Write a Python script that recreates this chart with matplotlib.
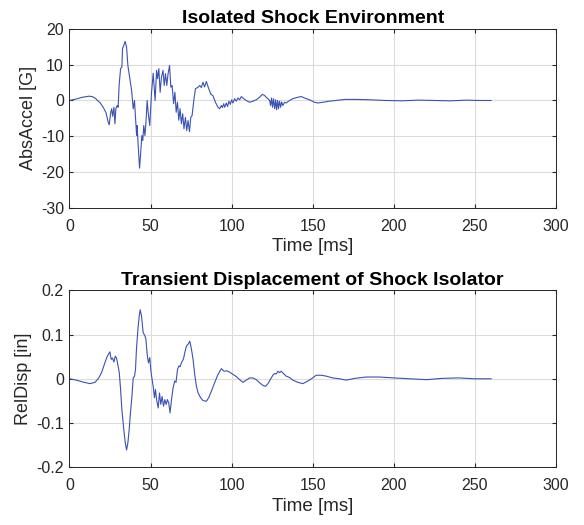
import matplotlib
matplotlib.use("Agg")
import matplotlib.pyplot as plt

plt.rcParams['font.family'] = ['Liberation Sans', 'DejaVu Sans']
plt.rcParams['axes.unicode_minus'] = False

# Top: absolute acceleration [G] vs time [ms]
t_acc = [0, 4, 8, 12, 14, 16, 18, 18.8, 20.8, 22.5, 23.9, 24.5, 25.4, 26.0, 26.6, 27.4,
         28.0, 28.6, 29.4, 30.0, 30.6, 31.5, 32.3, 32.7, 33.5, 34.3, 35.2, 36.0, 37.2,
         38.3, 39.3, 40.1, 40.5, 41.4, 41.7, 42.3, 43.2, 43.8, 44.6, 45.2, 45.8, 46.5,
         47.1, 47.9, 48.5, 49.5, 50.6, 51.6, 52.2, 52.8, 53.7, 54.3, 55.1, 55.9, 56.7,
         57.7, 58.4, 59.2, 60.0, 60.8, 61.7, 62.5, 63.3, 64.2, 65.0, 65.8, 66.6, 67.4,
         68.2, 69.0, 69.8, 70.6, 71.5, 72.3, 73.1, 74.0, 74.8, 75.6, 76.8, 77.7, 79.3,
         80.3, 81.3, 82.3, 83.3, 84.4, 85.4, 87.1, 88.5, 90.0, 91.6, 92.6, 93.6, 94.3,
         95.1, 95.7, 96.7, 97.5, 98.3, 99.2, 100.0, 100.8, 101.8, 102.9, 103.9, 104.9,
         106.0, 107.4, 109.0, 111.1, 113.1, 115.2, 117.2, 118.9, 120.3, 121.3, 122.4,
         123.4, 124.0, 124.6, 125.2, 125.8, 126.5, 127.1, 127.7, 128.3, 128.9, 129.5,
         130.2, 130.8, 131.6, 132.6, 133.6, 135.7, 137.7, 140.8, 142.9, 144.9, 148.0,
         151.1, 153.1, 156.2, 160.3, 164.4, 170, 177, 185, 195, 205, 215, 225, 235,
         245, 252, 260]
g_acc = [0.0, 0.4, 0.9, 1.2, 1.1, 0.6, -0.3, -0.6, -1.9, -3.4, -6.1, -6.8, -3.4, -2.3,
         -4.4, -1.9, -6.5, -2.3, -1.4, -1.9, 4.2, 8.9, 9.3, 14.5, 15.4, 16.5, 14.9, 9.8,
         6.1, 2.8, -2.3, 0.0, -3.3, -9.8, -7.0, -12.1, -18.9, -15.3, -9.8, -11.2, -7.0,
         -9.8, -6.5, 0.0, -3.3, -7.0, 2.3, 7.6, 3.7, 0.0, 8.4, 6.1, 8.9, 2.3, 6.5, 8.4,
         4.2, 7.5, 4.2, 7.5, 9.8, 3.7, 4.2, -0.9, 2.3, -3.3, -0.5, -5.5, -2.3, -6.5,
         -3.7, -7.9, -4.7, -8.4, -5.6, -8.7, -4.7, -4.2, 0.5, 3.3, 3.7, 4.2, 3.6, 5.1,
         3.8, 5.3, 3.9, 1.8, 1.3, -0.5, -1.9, -2.3, -1.4, -2.0, -0.9, -1.9, -0.7, -1.7,
         -0.2, -1.1, 0.2, -0.7, 0.5, -0.2, 0.7, 0.2, 1.1, 0.5, 0.0, -0.5, -0.2, 0.2, 0.9,
         1.7, 1.4, 0.9, 0.5, 0.0, -1.4, 0.7, -1.9, 0.5, -2.3, 0.2, -2.6, 0.0, -2.3, -0.2,
         -1.9, -0.4, -1.4, -0.5, -0.7, 0.0, 0.5, 0.9, 1.1, 0.7, 0.2, -0.5, -0.7, -0.5,
         -0.2, 0.0, 0.3, 0.3, 0.2, 0.0, -0.1, 0.1, 0.0, -0.1, 0.1, 0.0, 0.0]

# Bottom: relative displacement [in] vs time [ms]
t_disp = [0, 4, 8, 12.6, 15.7, 17.7, 19.8, 21.8, 23.3, 24.9, 25.7, 26.5, 27.4, 28.2,
          29.0, 29.8, 30.7, 31.5, 32.3, 33.5, 34.4, 35.2, 36.0, 36.8, 37.6, 38.5, 39.3,
          40.1, 40.7, 41.3, 42.2, 43.0, 43.6, 44.4, 45.4, 46.5, 47.1, 47.9, 48.7, 49.5,
          50.3, 51.6, 52.4, 53.0, 53.7, 54.7, 55.5, 56.3, 57.1, 58.0, 58.8, 59.6, 60.4,
          61.2, 62.0, 62.9, 63.9, 64.9, 65.7, 66.6, 67.4, 68.2, 69.0, 70.3, 71.1, 72.1,
          73.1, 74.2, 75.2, 76.2, 77.2, 78.3, 79.3, 80.9, 82.3, 84.4, 85.8, 87.5, 89.5,
          91.6, 93.7, 95.3, 97.0, 98.8, 100.8, 102.9, 104.9, 107.0, 109.0, 111.1, 113.1,
          115.2, 117.2, 119.3, 120.9, 122.4, 123.8, 125.4, 126.5, 127.5, 128.5, 129.5,
          130.6, 131.6, 133.6, 135.7, 137.7, 140.8, 143.9, 147.0, 150.0, 152.1, 155.2,
          158.3, 162.3, 166.5, 170.6, 176, 182.9, 191, 200, 210, 220, 230, 240, 250, 260]
d_disp = [0.0, -0.003, -0.007, -0.011, -0.008, 0.0, 0.014, 0.036, 0.051, 0.061, 0.044,
          0.047, 0.038, 0.051, 0.047, 0.032, 0.014, -0.024, -0.070, -0.115, -0.145,
          -0.161, -0.145, -0.115, -0.077, -0.040, 0.002, 0.006, 0.021, 0.067, 0.112,
          0.142, 0.156, 0.142, 0.105, 0.097, 0.090, 0.055, 0.036, 0.048, 0.014, -0.017,
          -0.043, -0.024, -0.047, -0.066, -0.032, -0.058, -0.040, -0.062, -0.047, -0.058,
          -0.047, -0.055, -0.077, -0.047, -0.020, -0.005, -0.008, 0.021, 0.029, 0.027,
          0.036, 0.045, 0.059, 0.074, 0.078, 0.085, 0.067, 0.044, 0.010, -0.017, -0.032,
          -0.043, -0.049, -0.051, -0.043, -0.028, -0.009, 0.010, 0.023, 0.017, 0.018,
          0.015, 0.010, 0.005, -0.002, -0.008, -0.003, 0.002, 0.002, -0.002, -0.009,
          -0.015, -0.017, -0.011, -0.002, 0.008, 0.012, 0.011, 0.017, 0.014, 0.017,
          0.013, 0.006, 0.003, -0.003, -0.008, -0.011, -0.005, 0.002, 0.008, 0.008,
          0.006, 0.002, 0.0, -0.003, 0.001, 0.004, 0.004, 0.002, 0.0, -0.002, 0.001,
          0.002, 0.0, 0.0]

x_ticks = [0, 50, 100, 150, 200, 250, 300]
acc_ticks = [-30, -20, -10, 0, 10, 20]
disp_ticks = [-0.2, -0.1, 0, 0.1, 0.2]
disp_labels = ['-0.2', '-0.1', '0', '0.1', '0.2']

line_color = '#3a52b4'
text_color = '#262626'
fig = plt.figure(figsize=(5.84, 5.25), dpi=100)
ax1 = fig.add_axes([0.119, 0.604, 0.833, 0.341])
ax2 = fig.add_axes([0.119, 0.110, 0.833, 0.337])

def style(ax):
    ax.set_xlim(0, 300)
    ax.set_xticks(x_ticks)
    ax.grid(True, color='#dcdcdc', linewidth=0.8)
    ax.set_axisbelow(True)
    ax.tick_params(direction='in', length=3, labelsize=11.5, colors=text_color,
                   top=True, right=True, labeltop=False, labelright=False)
    ax.tick_params(axis='x', pad=8)
    ax.tick_params(axis='y', pad=4)
    for s in ax.spines.values():
        s.set_color(text_color)
        s.set_linewidth(0.7)
    ax.set_xlabel('Time [ms]', fontsize=13.5, color=text_color, labelpad=3)

ax1.plot(t_acc, g_acc, color=line_color, linewidth=0.8)
ax1.set_ylim(-30, 20)
ax1.set_yticks(acc_ticks)
ax1.set_ylabel('AbsAccel [G]', fontsize=13, color=text_color, labelpad=3)
ax1.set_title('Isolated Shock Environment', fontsize=14, fontweight='bold', pad=4)
style(ax1)

ax2.plot(t_disp, d_disp, color=line_color, linewidth=0.8)
ax2.set_ylim(-0.2, 0.2)
ax2.set_yticks(disp_ticks)
ax2.set_yticklabels(disp_labels)
ax2.set_ylabel('RelDisp [in]', fontsize=13, color=text_color, labelpad=3)
ax2.set_title('Transient Displacement of Shock Isolator', fontsize=14, fontweight='bold', pad=4)
style(ax2)

fig.savefig('out.png', dpi=100)
